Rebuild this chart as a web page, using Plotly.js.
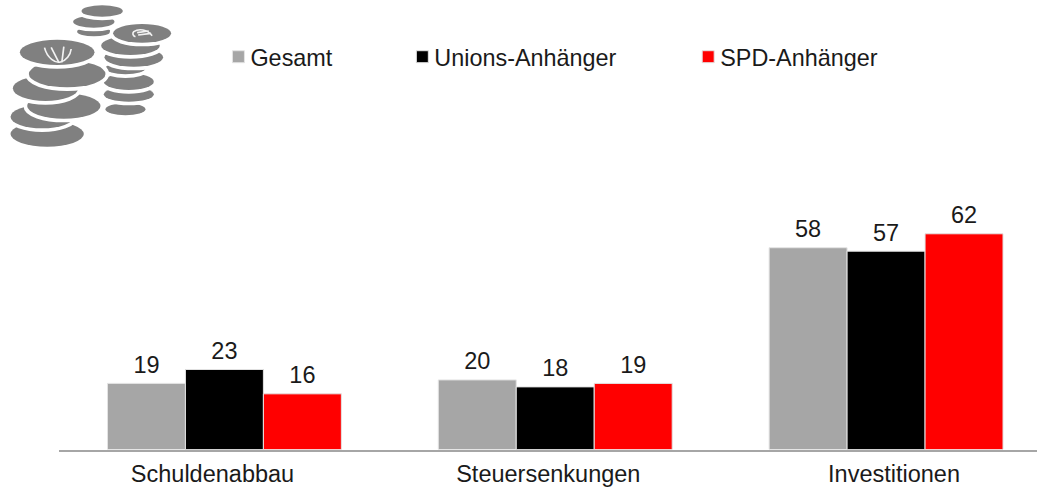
<!DOCTYPE html>
<html><head><meta charset="utf-8">
<script src="https://cdn.plot.ly/plotly-3.0.1.min.js"></script>
<style>html,body{margin:0;padding:0;background:#fff}</style></head>
<body><div id="chart" style="width:1037px;height:490px"></div>
<script>
const categories = ["Schuldenabbau","Steuersenkungen","Investitionen"];
const gesamt = [19,20,58];
const union = [23,18,57];
const spd = [16,19,62];
const names = ["Gesamt","Unions-Anhänger","SPD-Anhänger"];
const colors = ["#A6A6A6","#000000","#FF0000"];
const series = [gesamt,union,spd];
const legendIds = ["legend","legend2","legend3"];

const W=1037,H=490,L=58.5;
const PW=W-L;
const lx = px => (px-L)/PW;
const ly = py => 1-py/H;

const coins = [
 [280,95,50,14],[280,65,62,18],[305,33,62,17],
 [375,328,60,18],[385,283,75,22],[385,245,75,25],[375,205,60,18],[400,172,88,28],[390,137,88,28],[425,100,87,28],
 [140,402,110,38],[125,350,95,35],[190,318,110,38],[135,265,98,38],[200,222,115,40],[170,157,112,38]
];
const coinSvg = '<svg xmlns="http://www.w3.org/2000/svg" width="600" height="480" viewBox="0 0 600 480">'
 + '<defs><filter id="b" x="-5%" y="-5%" width="110%" height="110%"><feGaussianBlur stdDeviation="1.3"/></filter></defs><g filter="url(#b)">'
 + coins.map(c=>`<ellipse cx="${c[0]}" cy="${c[1]}" rx="${c[2]}" ry="${c[3]}" fill="#808080" stroke="#fff" stroke-width="22" paint-order="stroke"/>`).join("")
 + '<g fill="none" stroke="#fff" stroke-width="5" opacity="0.9"><path d="M132 143 C140 175 165 190 180 186 C197 182 210 165 212 147"/><path d="M152 142 L175 187"/><path d="M190 140 L184 187"/></g>'
 + '<g fill="none" stroke="#fff" stroke-width="5" opacity="0.9"><path d="M455 107 C440 88 415 85 400 95 C395 100 397 107 405 110"/><path d="M410 98 L445 93"/><path d="M413 105 L452 100"/></g>'
 + '</g></svg>';

const traces = series.map((v,i)=>({type:"bar",x:categories,y:v,name:names[i],legend:legendIds[i],text:v.map(String),
 textposition:"outside",cliponaxis:false,textfont:{size:23.5,color:"#1a1a1a"},
 marker:{color:colors[i],line:{color:"#e4e4e4",width:1}}}));
const legendCommon = {orientation:"h",yanchor:"middle",xanchor:"left",y:ly(57),bgcolor:"rgba(0,0,0,0)",
 borderwidth:0,font:{size:23.4,color:"#1a1a1a"},itemwidth:30,itemclick:false,itemdoubleclick:false};
const layout = {width:W,height:H,margin:{l:L,r:0,t:0,b:0,pad:0},
 paper_bgcolor:"#fff",plot_bgcolor:"#fff",showlegend:true,barmode:"group",bargap:0.293,bargroupgap:0,
 font:{family:"Liberation Sans, Arial, sans-serif",size:23,color:"#1a1a1a"},
 legend:Object.assign({},legendCommon,{x:lx(210)}),
 legend2:Object.assign({},legendCommon,{x:lx(394)}),
 legend3:Object.assign({},legendCommon,{x:lx(680)}),
 xaxis:{type:"category",range:[-0.5,-0.5+PW/331],showline:true,linecolor:"#a6a6a6",linewidth:2,ticks:"",
   tickmode:"array",tickvals:[-0.036,0.979,2.024],ticktext:categories,tickangle:0,tickfont:{size:23.5,color:"#1a1a1a"},
   ticklabelstandoff:2,automargin:false},
 yaxis:{visible:false,range:[0,100.6],domain:[ly(449.5),ly(99.5)],fixedrange:true},
 images:[{source:"data:image/svg+xml;charset=utf-8,"+encodeURIComponent(coinSvg),xref:"paper",yref:"paper",
   x:lx(0),y:1,sizex:200/PW,sizey:160/H,xanchor:"left",yanchor:"top",sizing:"stretch",layer:"above"}]};
Plotly.newPlot("chart",traces,layout,{displayModeBar:false}).then(()=>{
 document.querySelectorAll(".legendpoints").forEach(g=>g.setAttribute("transform","translate(8,0)"));
 document.querySelectorAll(".bartext").forEach(t=>{
   const tr=t.getAttribute("transform")||"";
   t.setAttribute("transform","translate(0,-2.5) "+tr);
 });
});
</script></body></html>
